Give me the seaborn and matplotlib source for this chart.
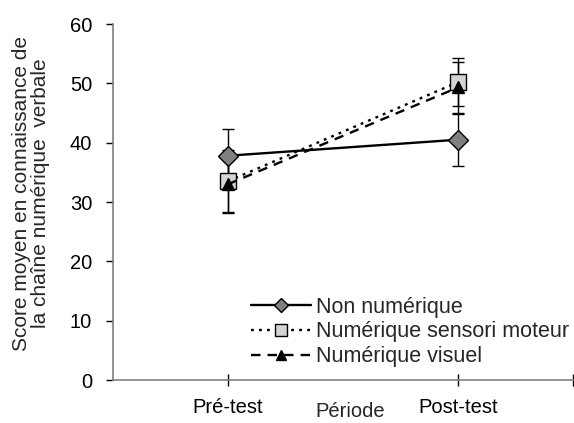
import matplotlib
matplotlib.use("Agg")
import matplotlib.pyplot as plt
import seaborn as sns
import pandas as pd

periods = ["Pré-test", "Post-test"]
groups = ["Non numérique", "Numérique sensori moteur", "Numérique visuel"]
non_num = [37.8, 40.5]
non_num_err = [4.5, 4.4]
sensori = [33.5, 50.2]
sensori_err = [5.2, 4.0]
visuel = [33.0, 49.3]
visuel_err = [4.8, 4.3]

sns.set_theme(style="white")
plt.rcParams['font.family'] = ['Liberation Sans', 'DejaVu Sans']

rows = []
for g, vals, errs in zip(groups, [non_num, sensori, visuel], [non_num_err, sensori_err, visuel_err]):
    for i, p in enumerate(periods):
        rows.append({"Période": p, "x": i, "Score": vals[i], "err": errs[i], "Groupe": g})
df = pd.DataFrame(rows)

fig = plt.figure(figsize=(5.74, 4.23), dpi=100)
ax = fig.add_axes([113 / 574, 1 - 380 / 423, 460 / 574, 356 / 423])

styles = {
    "Non numérique": dict(marker="D", mfc="#808080", ms=10.5, lms=7, dashes=None),
    "Numérique sensori moteur": dict(marker="s", mfc="#d4d4d4", ms=11.5, lms=8, dashes=(1.2, 2.2)),
    "Numérique visuel": dict(marker="^", mfc="black", ms=9, lms=7, dashes=(4, 3)),
}

for g in groups:
    sub = df[df["Groupe"] == g]
    ax.errorbar(sub["x"], sub["Score"], yerr=sub["err"], fmt="none",
                ecolor="black", elinewidth=1, capsize=4, capthick=1, zorder=2)

for g in groups:
    sub = df[df["Groupe"] == g]
    st = styles[g]
    sns.lineplot(x="x", y="Score", data=sub, ax=ax, color="black", lw=1.7,
                 marker=st["marker"], markersize=st["ms"], markerfacecolor=st["mfc"],
                 markeredgecolor="black", markeredgewidth=1, label=g, zorder=3)
for ln, g in zip(ax.get_lines()[-3:], groups):
    if styles[g]["dashes"]:
        ln.set_dashes(styles[g]["dashes"])
        ln.set_dash_capstyle("butt")

ax.set_xlim(-0.5, 1.5)
ax.set_ylim(0, 60)
ax.set_yticks([0, 10, 20, 30, 40, 50, 60])
ax.set_xticks([0, 1])
ax.set_xticks([1.5], minor=True)
ax.set_xticklabels(periods)
ax.tick_params(axis="y", labelsize=14.5, colors="black", length=5, width=1,
               direction="out", left=True, pad=10)
ax.tick_params(axis="x", which="both", labelsize=14.5, colors="black", length=8, width=1,
               direction="inout", bottom=True, pad=9)
for s in ["top", "right"]:
    ax.spines[s].set_visible(False)
for s in ["left", "bottom"]:
    ax.spines[s].set_color("#808080")
    ax.spines[s].set_linewidth(1.2)

ax.set_xlabel("Période", fontsize=14.5)
ax.xaxis.set_label_coords(0.515, -0.063)
ax.xaxis.label.set_va("top")
ax.set_ylabel("Score moyen en connaissance de\nla chaîne numérique  verbale", fontsize=15,
              linespacing=1.02)
ax.yaxis.set_label_coords(-0.178, 0.525)
ax.yaxis.label.set_va("center")

leg = ax.legend(loc="center left", bbox_to_anchor=(0.300, 0.135), frameon=False, fontsize=15.5,
                handlelength=2.8, handletextpad=0.2, labelspacing=0.17,
                borderaxespad=0, borderpad=0)
for h, g in zip(leg.legend_handles, groups):
    h.set_markersize(styles[g]["lms"])
    h.set_linewidth(1.7)

fig.savefig("out.png", dpi=100)
